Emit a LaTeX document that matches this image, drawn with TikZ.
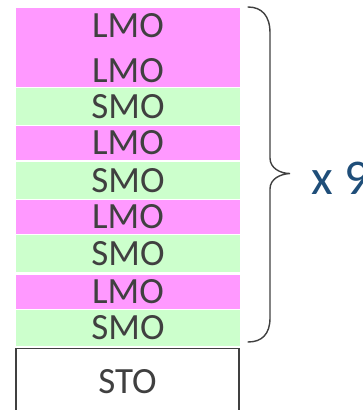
\documentclass[tikz,border=0pt]{standalone}
\usepackage{fontspec}
\setmainfont{Carlito}
\definecolor{lmopink}{HTML}{FF99FF}
\definecolor{smogreen}{HTML}{CCFFCC}
\definecolor{txtgray}{HTML}{404040}
\definecolor{xblue}{HTML}{1F4E79}
\begin{document}
\begin{tikzpicture}[x=1pt,y=-1pt,
  rowbox/.style={draw=none,inner sep=0pt,minimum width=224pt,font=\fontsize{37}{44}\selectfont,
    text=txtgray,text height=23.5pt,text depth=0pt},
  lmorow/.style={rowbox,fill=lmopink},
  smorow/.style={rowbox,fill=smogreen},
  lbl/.style={inner sep=0pt,font=\fontsize{37}{44}\selectfont,text=txtgray,text height=23.5pt,text depth=0pt},
  stobox/.style={rowbox,draw=txtgray,line width=1.2pt,fill=white,minimum width=223pt},
  bracestyle/.style={draw=txtgray,line width=1.4pt,line cap=round}]
\useasboundingbox (0,0) rectangle (362,410);
\clip (0,0) rectangle (362,410);
\node[lmorow,minimum height=79pt] (r1) at (128,47.5) {};
\node[lbl] (r1a) at (128,26) {LMO};
\node[lbl] (r1b) at (128,70.5) {LMO};
\node[smorow,minimum height=37pt] (r2) at (128,106.5) {SMO};
\node[lmorow,minimum height=34pt] (r3) at (128,143) {LMO};
\node[smorow,minimum height=37.5pt] (r4) at (128,180.25) {SMO};
\node[lmorow,minimum height=34pt] (r5) at (128,217) {LMO};
\node[smorow,minimum height=37pt] (r6) at (128,253.5) {SMO};
\node[lmorow,minimum height=34.5pt] (r7) at (128,291.75) {LMO};
\node[smorow,minimum height=36pt] (r8) at (128,328) {SMO};
\node[stobox,minimum height=66pt] (sto) at (127.5,381.5) {STO};
\coordinate (bt) at (248,7);
\coordinate (bb) at (248,342);
\coordinate (tip) at (290,173.5);
\draw[bracestyle] (bt) .. controls (262,7) and (270,16) .. (270,33) -- (270,158)
  .. controls (270,168) and (280,173.5) .. (tip)
  .. controls (280,174) and (270,179) .. (270,189) -- (270,318)
  .. controls (270,334) and (262,342) .. (bb);
\node[anchor=base west,inner sep=0pt,font=\fontsize{50}{60}\selectfont,text=xblue] (times) at (311,194) {x 9};
\end{tikzpicture}
\end{document}
